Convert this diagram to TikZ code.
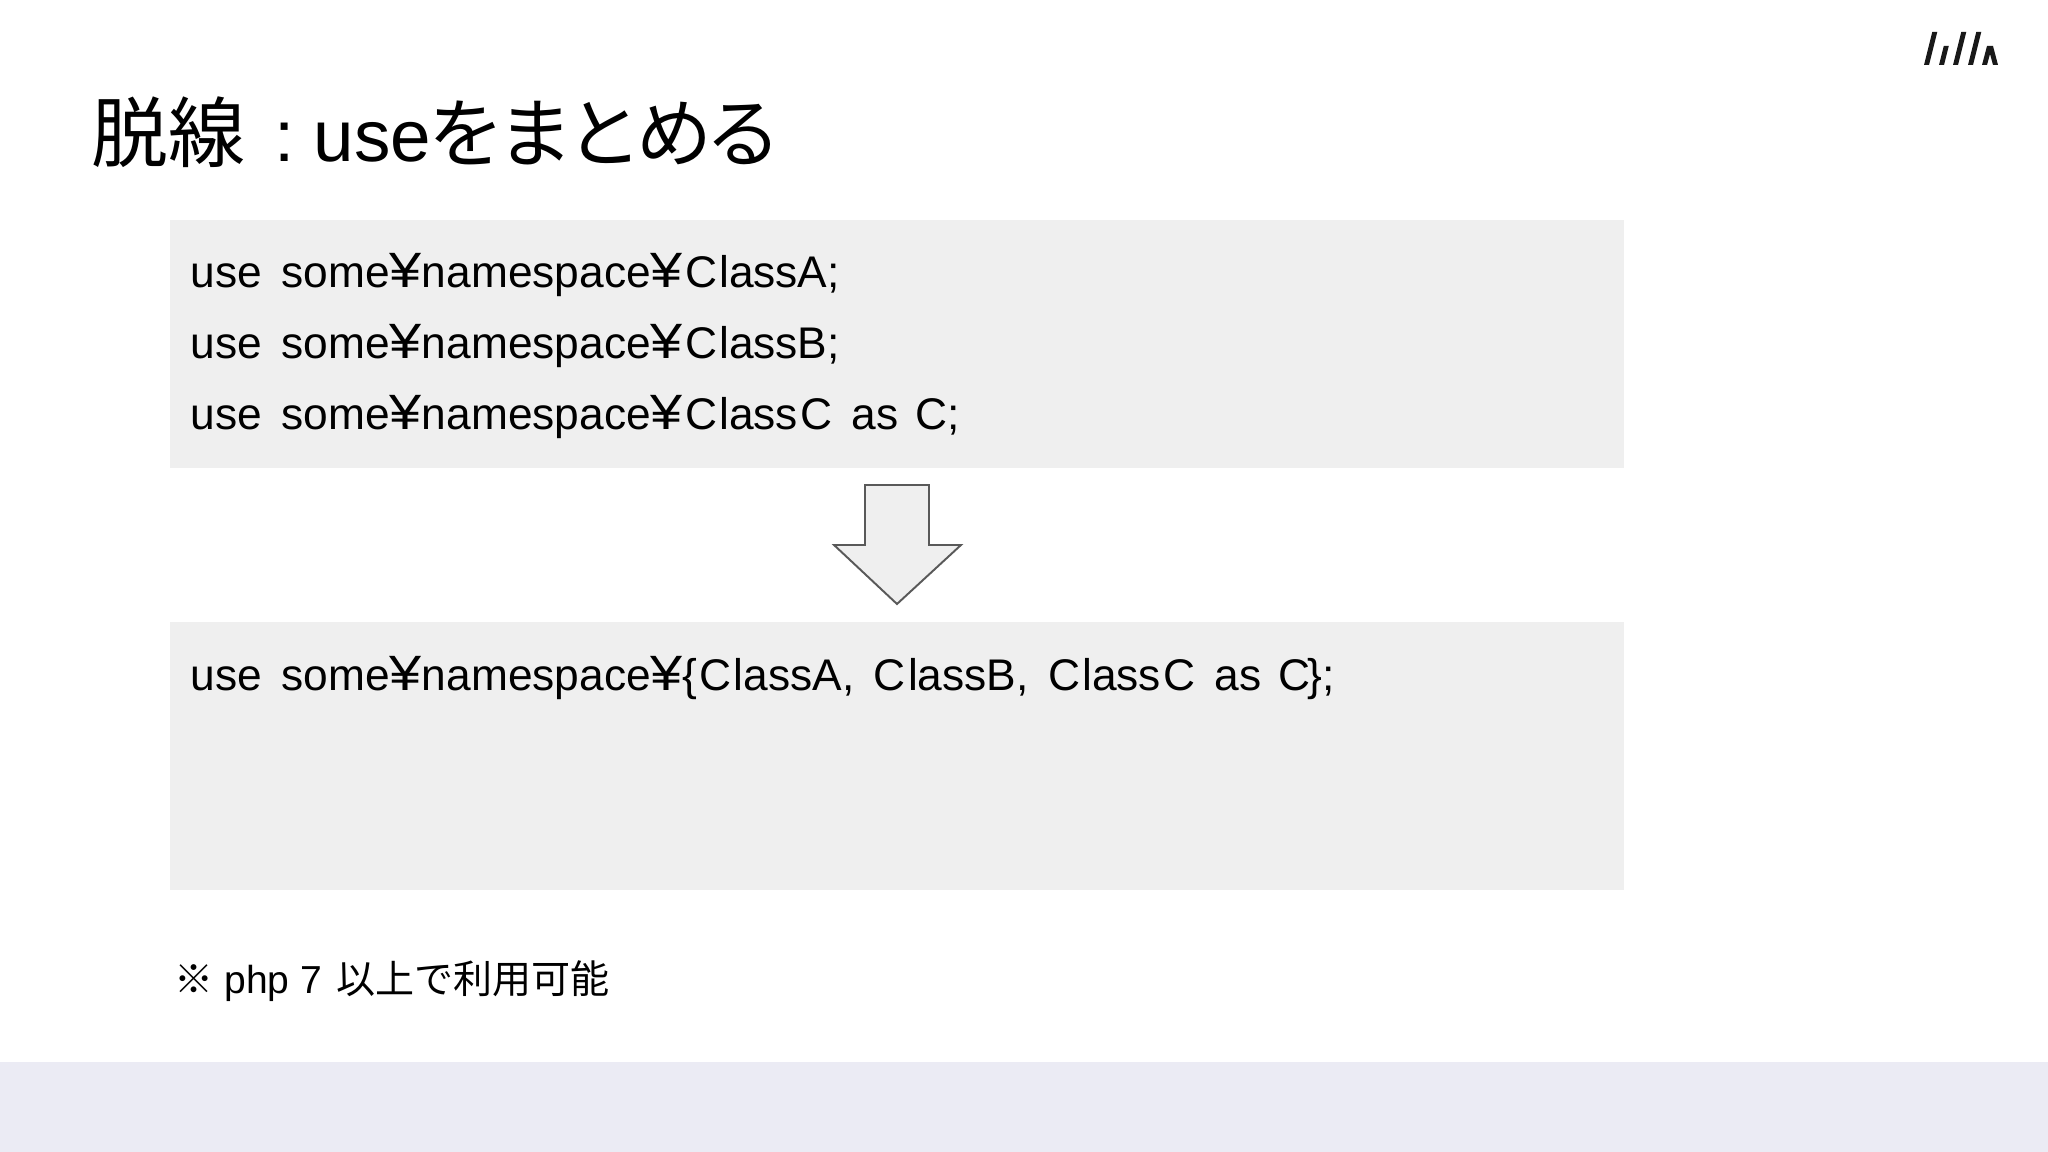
\documentclass[tikz,border=0pt]{standalone}
\usepackage{graphicx}
\usepackage{fontspec}
\setmainfont{Liberation Sans}[WordSpace=1.4]
\newfontfamily\plainsans{Liberation Sans}
\newfontfamily\cjk{Noto Sans CJK JP}
\newfontfamily\cjkkana{Noto Sans CJK JP}[LetterSpace=-9]
\newcommand{\yen}{\scalebox{1.3}[1.12]{¥}}
\newcommand{\Cl}{\kern.6pt C\kern.6pt}
\definecolor{boxgray}{HTML}{EFEFEF}
\definecolor{bandblue}{HTML}{EBEBF4}
\definecolor{arrowgray}{HTML}{595959}
\tikzset{
  codebox/.style={fill=boxgray, draw=none},
  codeline/.style={anchor=base west, inner sep=0pt, font=\fontsize{12.6}{15}\selectfont, text=black},
  logobar/.style={fill=black!90, draw=none},
}
\begin{document}
\begin{tikzpicture}[x=0.01cm, y=-0.01cm]
\useasboundingbox (0,0) rectangle (2048,1152);
\fill[white] (0,0) rectangle (2048,1152);
\fill[bandblue] (0,1062) rectangle (2048,1152);
\fill[codebox] (170,220) rectangle (1624,468);
\fill[codebox] (170,622) rectangle (1624,890);
% title
\node[anchor=base west, inner sep=0pt, font=\fontsize{21.9}{26}\selectfont] (title) at (91,162) {\cjk 脱線};
\node[anchor=base west, inner sep=0pt, font=\fontsize{20.7}{26}\selectfont] (titlecolon) at (274,162) {:};
\node[anchor=base west, inner sep=0pt, font=\fontsize{20.7}{26}\selectfont] (titleuse) at (313,162) {use};
\node[anchor=base west, inner sep=0pt, font=\fontsize{21.6}{26}\selectfont] (titlekana) at (428,162) {\cjkkana をまとめる};
% code lines
\node[codeline] (lineA) at (190,288) {use\kern.6pt{} some\yen namespace\yen\Cl lassA;};
\node[codeline] (lineB) at (190,359) {use\kern.6pt{} some\yen namespace\yen\Cl lassB;};
\node[codeline] (lineC) at (190,430) {use\kern.6pt{} some\yen namespace\yen\Cl lass\Cl{} as C;};
\node[codeline] (lineD) at (190,690) {use\kern.6pt{} some\yen namespace\yen\{\Cl lassA, \Cl lassB, \Cl lass\Cl{} as C\kern-.8pt\};};
% arrow
\draw[arrowgray, fill=boxgray, line width=0.55pt, line join=miter]
  (865,485) -- (929,485) -- (929,545) -- (961,545) -- (897,604) -- (834,545) -- (865,545) -- cycle;
% note
\node[anchor=base west, inner sep=0pt, font=\fontsize{11.1}{13}\selectfont\plainsans] (note) at (174,993)
  {{\cjk ※} php 7\kern1pt{} {\cjk 以上で利用可能}};
% logo
\foreach \x/\t in {1924/32, 1939/46, 1953/32, 1968/32} {
 \pgfmathsetmacro{\dx}{(65-\t)*.25}
 \fill[logobar] (\x,65) -- (\x+5,65) -- (\x+5+\dx,\t) -- (\x+\dx,\t) -- cycle;
}
\fill[logobar] (1982,65) -- (1987,46) -- (1993,46) -- (1998,65) -- (1993,65) -- (1990,54) -- (1987,65) -- cycle;
\end{tikzpicture}
\end{document}
